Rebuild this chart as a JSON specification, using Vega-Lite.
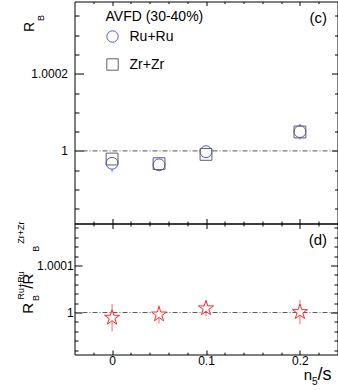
{
  "$schema": "https://vega.github.io/schema/vega-lite/v6.json",
  "padding": {"left": 15.5, "top": 0.5, "right": 0, "bottom": 0},
  "background": "white",
  "spacing": 0,
  "bounds": "flush",
  "datasets": {
    "dtop": [
      {"n5": 0, "series": "Ru+Ru", "RB": 0.999968, "lo": 0.999946, "hi": 0.99999},
      {"n5": 0.05, "series": "Ru+Ru", "RB": 0.999964, "lo": 0.99995, "hi": 0.999978},
      {"n5": 0.1, "series": "Ru+Ru", "RB": 0.999998, "lo": 0.999984, "hi": 1.000012},
      {"n5": 0.2, "series": "Ru+Ru", "RB": 1.00005, "lo": 1.00003, "hi": 1.00007},
      {"n5": 0, "series": "Zr+Zr", "RB": 0.999979, "lo": 0.999968, "hi": 0.99999},
      {"n5": 0.05, "series": "Zr+Zr", "RB": 0.999967, "lo": 0.999956, "hi": 0.999978},
      {"n5": 0.1, "series": "Zr+Zr", "RB": 0.999991, "lo": 0.99998, "hi": 1.000002},
      {"n5": 0.2, "series": "Zr+Zr", "RB": 1.000049, "lo": 1.000038, "hi": 1.00006}
    ],
    "dbot": [
      {"n5": 0, "ratio": 0.999989, "lo": 0.99996, "hi": 1.000018},
      {"n5": 0.05, "ratio": 0.999996, "lo": 0.999977, "hi": 1.000015},
      {"n5": 0.1, "ratio": 1.000009, "lo": 0.999992, "hi": 1.000026},
      {"n5": 0.2, "ratio": 1.000001, "lo": 0.999975, "hi": 1.000027}
    ],
    "dref": [{"ref": 1}]
  },
  "vconcat": [
    {
      "width": 263,
      "height": 222,
      "layer": [
        {
          "data": {"name": "dref"},
          "mark": {"type": "rule", "color": "#555555", "strokeDash": [5, 2, 1, 2], "strokeWidth": 1},
          "encoding": {
            "y": {"field": "ref", "type": "quantitative",
              "scale": {"domain": [0.999812, 1.000387], "nice": false, "zero": false},
              "axis": {"orient": "right", "values": [1, 1.0002], "labels": false, "tickSize": 6, "offset": -6,
                "title": "(c)", "titleAngle": 0, "titleAlign": "right", "titleBaseline": "alphabetic",
                "titleX": -5, "titleY": 21, "titleFontSize": 15}}
          }
        },
        {
          "data": {"name": "dtop"},
          "mark": {"type": "rule", "strokeWidth": 1},
          "encoding": {
            "x": {"field": "n5", "type": "quantitative",
              "scale": {"domain": [-0.04, 0.24], "nice": false, "zero": false},
              "axis": {"orient": "bottom", "values": [0, 0.1, 0.2], "labels": false, "tickSize": 5, "offset": -5, "title": null}},
            "y": {"field": "lo", "type": "quantitative",
              "axis": {"orient": "left", "values": [1, 1.0002], "format": "~g", "tickSize": 9, "offset": -9, "labelPadding": 7,
                "title": "R", "titleFontSize": 14, "titleAngle": 270, "titleAlign": "left", "titleBaseline": "alphabetic",
                "titleX": -50, "titleY": 30}},
            "y2": {"field": "hi"},
            "color": {"field": "series", "type": "nominal",
              "scale": {"domain": ["Ru+Ru", "Zr+Zr"], "range": ["#5050ff", "#606060"]},
              "legend": {"orient": "none", "legendX": 31, "legendY": 8,
                "title": "AVFD (30-40%)", "titleFontSize": 14, "titleFontWeight": "normal", "titleColor": "black", "titleFont": "Liberation Sans", "titlePadding": 6,
                "labelFontSize": 14, "labelFont": "Liberation Sans", "labelColor": "black",
                "symbolSize": 130, "symbolStrokeWidth": 1, "rowPadding": 12, "labelOffset": 10}}
          }
        },
        {
          "data": {"name": "dtop"},
          "transform": [{"filter": "datum.series === 'Ru+Ru'"}],
          "mark": {"type": "point", "shape": "circle", "filled": true, "color": "white", "size": 140, "opacity": 1},
          "encoding": {
            "x": {"field": "n5", "type": "quantitative",
              "axis": {"orient": "top", "values": [0, 0.1, 0.2], "labels": false, "tickSize": 4, "offset": -4, "title": null}},
            "y": {"field": "RB", "type": "quantitative",
              "axis": {"orient": "right", "values": [0.99985, 0.9999, 0.99995, 1.00005, 1.0001, 1.00015, 1.00025, 1.0003, 1.00035], "labels": false, "tickSize": 3, "offset": -3, "title": null}}
          }
        },
        {
          "data": {"name": "dtop"},
          "transform": [{"filter": "datum.series === 'Zr+Zr'"}],
          "mark": {"type": "point", "shape": "square", "filled": true, "color": "white", "size": 140, "opacity": 1},
          "encoding": {
            "x": {"field": "n5", "type": "quantitative",
              "axis": {"orient": "top", "values": [-0.02, 0.02, 0.04, 0.06, 0.08, 0.12, 0.14, 0.16, 0.18, 0.22], "labels": false, "tickSize": 2, "offset": -2, "title": null}},
            "y": {"field": "RB", "type": "quantitative", "axis": null}
          }
        },
        {
          "data": {"name": "dtop"},
          "mark": {"type": "point", "filled": false, "size": 140, "strokeWidth": 1, "opacity": 1},
          "encoding": {
            "x": {"field": "n5", "type": "quantitative",
              "axis": {"orient": "bottom", "values": [-0.02, 0.02, 0.04, 0.06, 0.08, 0.12, 0.14, 0.16, 0.18, 0.22], "labels": false, "tickSize": 2.5, "offset": -2.5, "title": null}},
            "y": {"field": "RB", "type": "quantitative",
              "axis": {"orient": "left", "values": [0.99985, 0.9999, 0.99995, 1.00005, 1.0001, 1.00015, 1.00025, 1.0003, 1.00035], "labels": false, "tickSize": 4.5, "offset": -4.5,
                "title": "B", "titleFontSize": 9, "titleAngle": 270, "titleAlign": "left", "titleBaseline": "alphabetic",
                "titleX": -35.5, "titleY": 19}},
            "color": {"field": "series", "type": "nominal",
              "scale": {"domain": ["Ru+Ru", "Zr+Zr"], "range": ["#5050ff", "#606060"]},
              "legend": {"orient": "none", "legendX": 31, "legendY": 8,
                "title": "AVFD (30-40%)", "titleFontSize": 14, "titleFontWeight": "normal", "titleColor": "black", "titleFont": "Liberation Sans", "titlePadding": 6,
                "labelFontSize": 14, "labelFont": "Liberation Sans", "labelColor": "black",
                "symbolSize": 130, "symbolStrokeWidth": 1, "rowPadding": 12, "labelOffset": 10}},
            "shape": {"field": "series", "type": "nominal",
              "scale": {"domain": ["Ru+Ru", "Zr+Zr"], "range": ["circle", "square"]},
              "legend": {"orient": "none", "legendX": 31, "legendY": 8,
                "title": "AVFD (30-40%)", "titleFontSize": 14, "titleFontWeight": "normal", "titleColor": "black", "titleFont": "Liberation Sans", "titlePadding": 6,
                "labelFontSize": 14, "labelFont": "Liberation Sans", "labelColor": "black",
                "symbolSize": 130, "symbolStrokeWidth": 1, "rowPadding": 12, "labelOffset": 10}}
          }
        }
      ]
    },
    {
      "width": 263,
      "height": 131,
      "layer": [
        {
          "data": {"name": "dref"},
          "mark": {"type": "rule", "color": "#555555", "strokeDash": [5, 2, 1, 2], "strokeWidth": 1},
          "encoding": {
            "y": {"field": "ref", "type": "quantitative",
              "scale": {"domain": [0.999911, 1.000189], "nice": false, "zero": false},
              "axis": {"orient": "right", "values": [1, 1.0001], "labels": false, "tickSize": 7, "offset": -7,
                "title": "(d)", "titleAngle": 0, "titleAlign": "right", "titleBaseline": "alphabetic",
                "titleX": -4, "titleY": 21, "titleFontSize": 15}}
          }
        },
        {
          "data": {"name": "dbot"},
          "mark": {"type": "rule", "strokeWidth": 1, "color": "#ff6666"},
          "encoding": {
            "x": {"field": "n5", "type": "quantitative",
              "scale": {"domain": [-0.04, 0.24], "nice": false, "zero": false},
              "axis": {"orient": "bottom", "values": [0, 0.1, 0.2], "format": "~g", "tickSize": 4.5, "offset": -4.5, "labelPadding": 1.4, "labelFlush": false,
                "title": "n", "titleFontSize": 15, "titleAngle": 0, "titleAlign": "left", "titleBaseline": "alphabetic",
                "titleX": 228.7, "titleY": 29.5}},
            "y": {"field": "lo", "type": "quantitative",
              "axis": {"orient": "left", "values": [1, 1.0001], "format": "~g", "tickSize": 7.5, "offset": -7.5, "labelPadding": 1.3,
                "title": "R", "titleFontSize": 15, "titleAngle": 270, "titleAlign": "left", "titleBaseline": "alphabetic",
                "titleX": -49.8, "titleY": 89.7}},
            "y2": {"field": "hi"}
          }
        },
        {
          "data": {"name": "dbot"},
          "mark": {"type": "point", "shape": "M0,-1L0.2245,-0.309L0.9511,-0.309L0.3633,0.118L0.5878,0.809L0,0.382L-0.5878,0.809L-0.3633,0.118L-0.9511,-0.309L-0.2245,-0.309Z", "filled": true, "fill": "white", "stroke": "#ff2a2a", "size": 250, "strokeWidth": 1, "opacity": 1},
          "encoding": {
            "x": {"field": "n5", "type": "quantitative",
              "axis": {"orient": "bottom", "values": [-0.02, 0.02, 0.04, 0.06, 0.08, 0.12, 0.14, 0.16, 0.18, 0.22], "labels": false, "tickSize": 2.3, "offset": -2.3,
                "title": "5", "titleFontSize": 10, "titleAngle": 0, "titleAlign": "left", "titleBaseline": "alphabetic",
                "titleX": 237, "titleY": 32.3}},
            "y": {"field": "ratio", "type": "quantitative",
              "axis": {"orient": "left", "values": [0.99992, 0.99994, 0.99996, 0.99998, 1.00002, 1.00004, 1.00006, 1.00008, 1.00012, 1.00014, 1.00016, 1.00018], "labels": false, "tickSize": 3.5, "offset": -3.5,
                "title": "B", "titleFontSize": 9, "titleAngle": 270, "titleAlign": "left", "titleBaseline": "alphabetic",
                "titleX": -39.2, "titleY": 77}}
          }
        },
        {
          "data": {"name": "dbot"},
          "mark": {"type": "point", "opacity": 0},
          "encoding": {
            "x": {"field": "n5", "type": "quantitative",
              "axis": {"orient": "top", "values": [0, 0.1, 0.2], "labels": false, "tickSize": 5, "offset": -5,
                "title": "/s", "titleFontSize": 18, "titleAngle": 0, "titleAlign": "left", "titleBaseline": "alphabetic",
                "titleX": 242.5, "titleY": 151}},
            "y": {"field": "ratio", "type": "quantitative",
              "axis": {"orient": "right", "values": [0.99992, 0.99994, 0.99996, 0.99998, 1.00002, 1.00004, 1.00006, 1.00008, 1.00012, 1.00014, 1.00016, 1.00018], "labels": false, "tickSize": 3.5, "offset": -3.5,
                "title": "Ru+Ru", "titleFontSize": 9, "titleAngle": 270, "titleAlign": "left", "titleBaseline": "alphabetic",
                "titleX": -310.8, "titleY": 75.4}}
          }
        },
        {
          "data": {"name": "dbot"},
          "mark": {"type": "point", "opacity": 0},
          "encoding": {
            "x": {"field": "n5", "type": "quantitative",
              "axis": {"orient": "top", "values": [-0.02, 0.02, 0.04, 0.06, 0.08, 0.12, 0.14, 0.16, 0.18, 0.22], "labels": false, "tickSize": 2.5, "offset": -2.5,
                "title": "/R", "titleFontSize": 15, "titleAngle": 270, "titleAlign": "left", "titleBaseline": "alphabetic",
                "titleX": -42, "titleY": 62.2}},
            "y": {"field": "ratio", "type": "quantitative",
              "axis": {"orient": "left", "values": [0.99992, 0.99994, 0.99996, 0.99998, 1.00002, 1.00004, 1.00006, 1.00008, 1.00012, 1.00014, 1.00016, 1.00018], "labels": false, "tickSize": 3.5, "offset": -3.5, "tickOpacity": 0,
                "title": "Zr+Zr", "titleFontSize": 9, "titleAngle": 270, "titleAlign": "left", "titleBaseline": "alphabetic",
                "titleX": -54.8, "titleY": 19.7}}
          }
        },
        {
          "data": {"name": "dbot"},
          "mark": {"type": "point", "opacity": 0},
          "encoding": {
            "x": {"field": "n5", "type": "quantitative", "axis": null},
            "y": {"field": "ratio", "type": "quantitative",
              "axis": {"orient": "right", "values": [0.99992, 0.99994, 0.99996, 0.99998, 1.00002, 1.00004, 1.00006, 1.00008, 1.00012, 1.00014, 1.00016, 1.00018], "labels": false, "tickSize": 3.5, "offset": -3.5, "tickOpacity": 0,
                "title": "B", "titleFontSize": 9, "titleAngle": 270, "titleAlign": "left", "titleBaseline": "alphabetic",
                "titleX": -295.2, "titleY": 27.7}}
          }
        }
      ]
    }
  ],
  "config": {
    "font": "Liberation Sans",
    "view": {"stroke": "black", "strokeWidth": 1},
    "axis": {
      "domain": false, "grid": false, "tickColor": "black", "tickWidth": 1,
      "labelFont": "Liberation Sans", "labelFontSize": 12, "labelColor": "black",
      "titleFont": "Liberation Sans", "titleFontWeight": "normal", "titleColor": "black"
    }
  }
}
